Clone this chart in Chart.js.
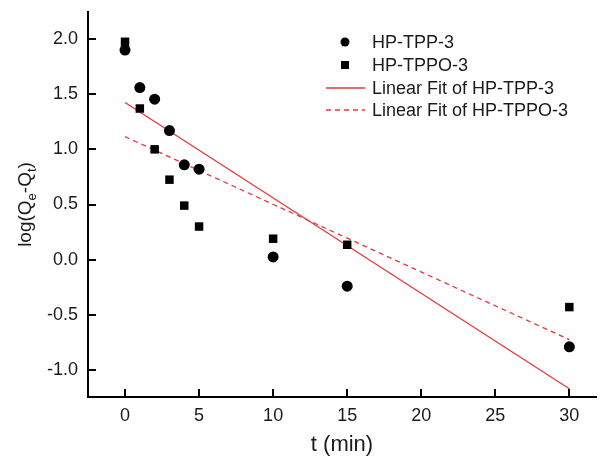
<!DOCTYPE html>
<html>
<head>
<meta charset="utf-8">
<script src="https://cdn.jsdelivr.net/npm/chart.js@4/dist/chart.umd.min.js"></script>
<style>
  html, body { margin: 0; padding: 0; background: #fff; overflow: hidden; }
  #wrap { width: 602px; height: 461px; position: relative; }
  canvas { display: block; }
</style>
</head>
<body>
<div id="wrap"><canvas id="chart"></canvas></div>
<script>
const FONT = "'Liberation Sans', Arial, sans-serif";
const RED = "#e5383b";

// time (min)
const tValues = [0, 1, 2, 3, 4, 5, 10, 15, 30];
// log(Qe-Qt)
const tppValues = [1.90, 1.56, 1.455, 1.17, 0.86, 0.82, 0.025, -0.24, -0.79];
const tppoValues = [1.975, 1.37, 1.0, 0.725, 0.49, 0.30, 0.19, 0.135, -0.43];

// linear fit end points
const fitT = [0, 30];
const fitTpp = [1.425, -1.17];
const fitTppo = [1.115, -0.725];

const legendLabels = ["HP-TPP-3", "HP-TPPO-3", "Linear Fit of HP-TPP-3", "Linear Fit of HP-TPPO-3"];

const toPoints = (xs, ys) => xs.map((x, i) => ({x: x, y: ys[i]}));

// inward ticks on both axes
const innerTicks = {
    id: "innerTicks",
    afterDraw(chart) {
        const ctx = chart.ctx;
        const xs = chart.scales.x, ys = chart.scales.y;
        const area = chart.chartArea;
        ctx.save();
        ctx.strokeStyle = "#000";
        ctx.lineWidth = 2;
        xs.ticks.forEach(t => {
            const px = Math.round(xs.getPixelForValue(t.value));
            ctx.beginPath();
            ctx.moveTo(px, area.bottom);
            ctx.lineTo(px, area.bottom - 8);
            ctx.stroke();
        });
        ys.ticks.forEach(t => {
            const py = Math.round(ys.getPixelForValue(t.value));
            ctx.beginPath();
            ctx.moveTo(area.left, py);
            ctx.lineTo(area.left + 8, py);
            ctx.stroke();
        });
        ctx.restore();
    }
};

// y title with subscripts
const yTitle = {
    id: "yTitle",
    afterDraw(chart) {
        const ctx = chart.ctx;
        const parts = [
            {text: "log(Q", sub: false},
            {text: "e", sub: true},
            {text: "-Q", sub: false},
            {text: "t", sub: true},
            {text: ")", sub: false}
        ];
        const big = "19px " + FONT, small = "13px " + FONT;
        let total = 0;
        parts.forEach(p => {
            ctx.font = p.sub ? small : big;
            p.w = ctx.measureText(p.text).width;
            total += p.w;
        });
        const area = chart.chartArea;
        const cy = (area.top + area.bottom) / 2;
        ctx.save();
        ctx.translate(31, cy);
        ctx.rotate(-Math.PI / 2);
        ctx.fillStyle = "#1a1a1a";
        ctx.textBaseline = "alphabetic";
        ctx.textAlign = "left";
        let x = -total / 2;
        parts.forEach(p => {
            ctx.font = p.sub ? small : big;
            ctx.fillText(p.text, x, p.sub ? 5 : 0);
            x += p.w;
        });
        ctx.restore();
    }
};

// legend drawn inside the plot, styled from the datasets
const innerLegend = {
    id: "innerLegend",
    afterDraw(chart) {
        const ctx = chart.ctx;
        const symX = 345;
        const textX = 372;
        const rows = [42, 65, 88, 110];
        ctx.save();
        ctx.font = "18px " + FONT;
        ctx.textBaseline = "middle";
        ctx.fillStyle = "#1a1a1a";
        chart.data.datasets.forEach((ds, i) => {
            const y = rows[i];
            if (ds.showLine) {
                ctx.strokeStyle = ds.borderColor;
                ctx.lineWidth = ds.borderWidth;
                ctx.setLineDash(ds.borderDash || []);
                ctx.beginPath();
                ctx.moveTo(symX - 19, y);
                ctx.lineTo(symX + 20, y);
                ctx.stroke();
                ctx.setLineDash([]);
            } else {
                ctx.fillStyle = ds.backgroundColor;
                if (ds.pointStyle === "rect") {
                    ctx.fillRect(symX - 4, y - 4, 8, 8);
                } else {
                    ctx.beginPath();
                    ctx.arc(symX, y, 4.5, 0, Math.PI * 2);
                    ctx.fill();
                }
            }
            ctx.fillStyle = "#1a1a1a";
            ctx.fillText(legendLabels[i], textX, y + 1);
        });
        ctx.restore();
    }
};

new Chart(document.getElementById("chart"), {
    type: "scatter",
    data: {
        datasets: [
            {
                label: legendLabels[0],
                data: toPoints(tValues, tppValues),
                pointStyle: "circle",
                pointRadius: 5.5,
                backgroundColor: "#000",
                borderColor: "#000",
                borderWidth: 0,
                showLine: false
            },
            {
                label: legendLabels[1],
                data: toPoints(tValues, tppoValues),
                pointStyle: "rect",
                pointRadius: 6,
                backgroundColor: "#000",
                borderColor: "#000",
                borderWidth: 0,
                showLine: false
            },
            {
                label: legendLabels[2],
                data: toPoints(fitT, fitTpp),
                showLine: true,
                pointRadius: 0,
                borderColor: RED,
                borderWidth: 1.3,
                backgroundColor: "transparent"
            },
            {
                label: legendLabels[3],
                data: toPoints(fitT, fitTppo),
                showLine: true,
                pointRadius: 0,
                borderColor: RED,
                borderWidth: 1.3,
                borderDash: [5, 4],
                backgroundColor: "transparent"
            }
        ]
    },
    options: {
        responsive: true,
        maintainAspectRatio: false,
        animation: false,
        layout: {padding: {top: 12, right: 0, left: 0, bottom: 0}},
        plugins: {
            legend: {display: false},
            tooltip: {enabled: false}
        },
        scales: {
            x: {
                type: "linear",
                min: -2.5,
                max: 31.8,
                grid: {display: false, drawTicks: false},
                border: {display: true, color: "#000", width: 2},
                ticks: {
                    stepSize: 5,
                    includeBounds: false,
                    padding: 8,
                    color: "#1a1a1a",
                    font: {family: FONT, size: 18}
                },
                title: {
                    display: true,
                    text: "t (min)",
                    color: "#1a1a1a",
                    font: {family: FONT, size: 22},
                    padding: {top: 4, bottom: 3}
                },
                afterFit: (scale) => {
                    scale.height = 64;
                    scale.paddingLeft = 0;
                    scale.paddingRight = 0;
                }
            },
            y: {
                type: "linear",
                min: -1.245,
                max: 2.245,
                grid: {display: false, drawTicks: false},
                border: {display: true, color: "#000", width: 2},
                ticks: {
                    stepSize: 0.5,
                    includeBounds: false,
                    padding: 10,
                    color: "#1a1a1a",
                    font: {family: FONT, size: 18},
                    callback: (v) => v.toFixed(1)
                },
                afterFit: (scale) => {
                    scale.width = 88;
                    scale.paddingTop = 0;
                    scale.paddingBottom = 0;
                }
            }
        }
    },
    plugins: [innerTicks, yTitle, innerLegend]
});
</script>
</body>
</html>
